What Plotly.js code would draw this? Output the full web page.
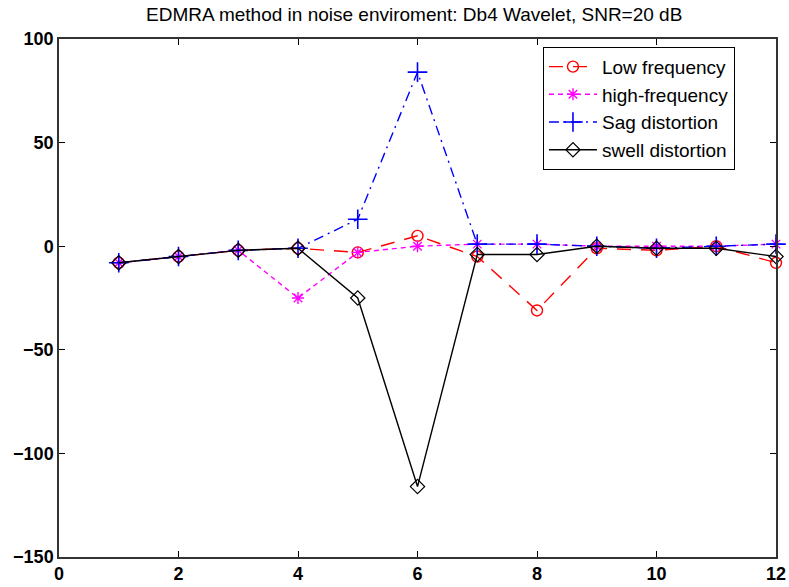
<!DOCTYPE html>
<html><head><meta charset="utf-8">
<script src="https://cdn.plot.ly/plotly-3.0.1.min.js"></script>
<style>body{margin:0;background:#fff}#chart{width:789px;height:587px}</style>
</head><body><div id="chart"></div>
<script>
const xVals = [1,2,3,4,5,6,7,8,9,10,11,12];
const lowFreq = [-8,-5,-2,-1,-3,5,-5,-31,-1,-2,0,-8];
const highFreq = [-8,-5,-2,-25,-3,0,1,1,0,0,0,1];
const sagDist = [-8,-5,-2,-1,13,84,1,1,0,-1,0,1];
const swellDist = [-8,-5,-2,-1,-25,-116,-4,-4,0,-1,-1,-5];
const names = ['Low frequency','high-frequency','Sag distortion','swell distortion'];
const xTicks = [0,2,4,6,8,10,12];
const yTicks = [-150,-100,-50,0,50,100];

const traces = [
  {x:xVals,y:lowFreq,name:names[0],mode:'lines+markers',cliponaxis:false,
   line:{color:'#ff0000',width:1.4,dash:'14px,10px'},
   marker:{symbol:'circle-open',size:11,color:'#ff0000',line:{width:1.4}}},
  {x:xVals,y:highFreq,name:names[1],mode:'lines+markers',cliponaxis:false,
   line:{color:'#ff00ff',width:1.4,dash:'5px,4px'},
   marker:{symbol:'asterisk-open',size:10,color:'#ff00ff',line:{width:1.4,color:'#ff00ff'}}},
  {x:xVals,y:sagDist,name:names[2],mode:'lines+markers',cliponaxis:false,
   line:{color:'#0000ff',width:1.4,dash:'10px,5px,2px,5px'},
   marker:{symbol:'cross-thin-open',size:14,color:'#0000ff',line:{width:1.6,color:'#0000ff'}}},
  {x:xVals,y:swellDist,name:names[3],mode:'lines+markers',cliponaxis:false,
   line:{color:'#000000',width:1.4},
   marker:{symbol:'diamond-open',size:11,color:'#000000',line:{width:1.2}}}
];

const layout = {
  width:789,height:587,
  margin:{l:59,r:13,t:39,b:30},
  paper_bgcolor:'#fff',plot_bgcolor:'#fff',
  font:{family:'Liberation Sans, Arial, sans-serif',color:'#000'},
  title:{text:'EDMRA method in noise enviroment: Db4 Wavelet, SNR=20 dB',
    font:{size:19,family:'Liberation Sans, Arial, sans-serif'},x:0.525,xanchor:'center',y:0.975,yanchor:'middle'},
  xaxis:{range:[0,12],tickvals:xTicks,ticks:'inside',ticklen:6,tickcolor:'#000',
    showline:true,mirror:'ticks',linecolor:'#333',linewidth:1.5,showgrid:false,zeroline:false,
    tickfont:{size:18,family:'Liberation Sans, Arial, sans-serif',weight:'bold'}},
  yaxis:{range:[-150,100],tickvals:yTicks,ticks:'inside',ticklen:6,tickcolor:'#000',
    showline:true,mirror:'ticks',linecolor:'#333',linewidth:1.5,showgrid:false,zeroline:false,
    tickfont:{size:18,family:'Liberation Sans, Arial, sans-serif',weight:'bold'}},
  showlegend:true,
  legend:{x:0.675,y:0.985,xanchor:'left',yanchor:'top',bgcolor:'#fff',bordercolor:'#000',borderwidth:1,
    font:{size:19,family:'Liberation Sans, Arial, sans-serif'},tracegroupgap:0,itemwidth:48}
};
Plotly.newPlot('chart',traces,layout,{displayModeBar:false});
</script></body></html>
